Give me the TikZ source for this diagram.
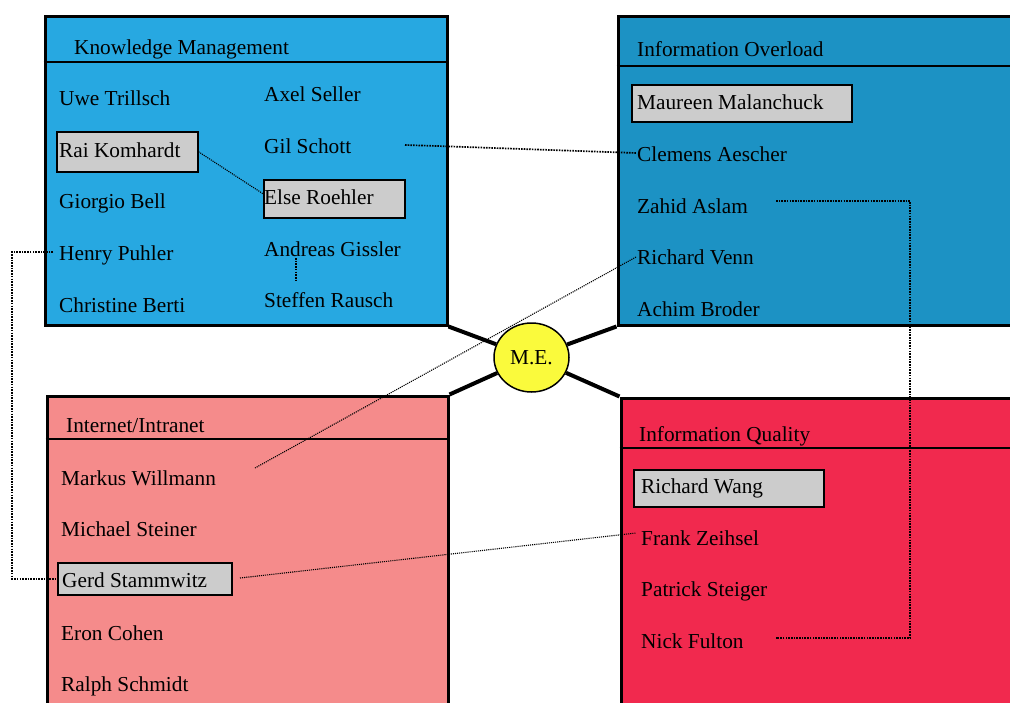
\documentclass[tikz,border=0pt]{standalone}
\usepackage{fontspec}
\setmainfont{Liberation Serif}
\usetikzlibrary{calc,shapes.geometric}
\definecolor{kmblue}{RGB}{39,168,225}
\definecolor{ioblue}{RGB}{28,146,196}
\definecolor{inpink}{RGB}{245,139,139}
\definecolor{iqred}{RGB}{241,41,78}
\definecolor{boxgray}{RGB}{204,204,204}
\definecolor{meyellow}{RGB}{250,250,60}
\newcommand{\fs}{\fontsize{21.3}{26}\selectfont}
\begin{document}
\begin{tikzpicture}[x=1pt,y=-1pt,
  lbl/.style={anchor=base west,inner sep=0pt,font=\fs},
  gbox/.style={draw=black,line width=1.5pt,fill=boxgray,anchor=north west,inner sep=0pt},
  panel/.style={draw=black,line width=3pt,anchor=north west,inner sep=0pt},
  sep/.style={line width=1.5pt},
  hub/.style={line width=4pt},
  dotline/.style={line width=1.7pt,dash pattern=on 1.6pt off 1.1pt},
  thindot/.style={line width=1.1pt,dash pattern=on 1.1pt off 1pt}]
\clip (0,0) rectangle (1010,702);
\fill[white] (0,0) rectangle (1010,702);

% panels
\node[panel,fill=kmblue,minimum width=402pt,minimum height=309pt] (km) at (43.5,14.5) {};
\node[panel,fill=ioblue,minimum width=403pt,minimum height=309pt] (io) at (616.5,14.5) {};
\node[panel,fill=inpink,minimum width=401pt,minimum height=325pt] (in) at (45.5,394.5) {};
\node[panel,fill=iqred,minimum width=400pt,minimum height=325pt] (iq) at (619.5,396.5) {};

\draw[sep] (43.5,62) -- (445.5,62);
\draw[sep] (616.5,66) -- (1020,66);
\draw[sep] (45.5,439) -- (446.5,439);
\draw[sep] (619.5,448) -- (1020,448);

% hub
\node[draw=black,line width=1.5pt,fill=meyellow,ellipse,minimum width=75pt,minimum height=69pt,inner sep=0pt,font=\fs] (me) at (531.5,357.5) {M.E.};
\draw[hub] (km.south east) -- (me);
\draw[hub] (io.south west) -- (me);
\draw[hub] (in.north east) -- (me);
\draw[hub] (iq.north west) -- (me);

% gray boxes
\node[gbox,minimum width=141pt,minimum height=40pt] (rai) at (56,131) {};
\node[gbox,minimum width=141pt,minimum height=38pt] (else) at (263,179) {};
\node[gbox,minimum width=220pt,minimum height=37pt] (maur) at (631,84) {};
\node[gbox,minimum width=174pt,minimum height=32pt] (gerd) at (57,562) {};
\node[gbox,minimum width=190pt,minimum height=37pt] (wang) at (633,469) {};

% Knowledge Management
\node[lbl] (kmt) at (74,54) {Knowledge Management};
\node[lbl] (uwe) at (59,105) {Uwe Trillsch};
\node[lbl] (rait) at (59,157) {Rai Komhardt};
\node[lbl] (gio) at (59,208) {Giorgio Bell};
\node[lbl] (henry) at (59,260) {Henry Puhler};
\node[lbl] (chris) at (59,312) {Christine Berti};
\node[lbl] (axel) at (264,101) {Axel Seller};
\node[lbl] (gil) at (264,153) {Gil Schott};
\node[lbl] (elset) at (264,204) {Else Roehler};
\node[lbl] (andr) at (264,256) {Andreas Gissler};
\node[lbl] (steff) at (264,307) {Steffen Rausch};

% Information Overload
\node[lbl] (iot) at (637,56) {Information Overload};
\node[lbl] (maurt) at (637,109) {Maureen Malanchuck};
\node[lbl] (clem) at (637,161) {Clemens Aescher};
\node[lbl] (zahid) at (637,213) {Zahid Aslam};
\node[lbl] (venn) at (637,264) {Richard Venn};
\node[lbl] (achim) at (637,316) {Achim Broder};

% Internet/Intranet
\node[lbl] (int) at (66,432) {Internet/Intranet};
\node[lbl] (markus) at (61,485) {Markus Willmann};
\node[lbl] (mich) at (61,536) {Michael Steiner};
\node[lbl] (gerdt) at (62,587) {Gerd Stammwitz};
\node[lbl] (eron) at (61,640) {Eron Cohen};
\node[lbl] (ralph) at (61,691) {Ralph Schmidt};

% Information Quality
\node[lbl] (iqt) at (639,441) {Information Quality};
\node[lbl] (wangt) at (641,493) {Richard Wang};
\node[lbl] (frank) at (641,545) {Frank Zeihsel};
\node[lbl] (patr) at (641,596) {Patrick Steiger};
\node[lbl] (nick) at (641,648) {Nick Fulton};

% connector end points
\coordinate (gilR) at (405,145);
\coordinate (clemL) at (636,153);
\coordinate (henryL) at (53,252);
\coordinate (zahidR) at (776,201);
\coordinate (nickR) at (776,638);
\coordinate (vennL) at (636,257);
\coordinate (markusR) at (255,468);
\coordinate (gerdR) at (240,578);
\coordinate (frankL) at (636,533);
\coordinate (andrB) at (296,258);
\coordinate (steffT) at (296,281);

% dotted connectors
\draw[dotline] (gilR) -- ++(32,1) -- (clemL);
\draw[thindot] (rai.east) -- ($(else.west)+(0,-5)$);
\draw[dotline] (henryL) -- ++(-41,0) |- (gerd.west);
\draw[dotline] (zahidR) -- ++(134,0) |- (nickR);
\draw[thindot] (vennL) -- (markusR);
\draw[thindot] (gerdR) -- (frankL);
\draw[dotline] (andrB) -- (steffT);
\end{tikzpicture}
\end{document}
